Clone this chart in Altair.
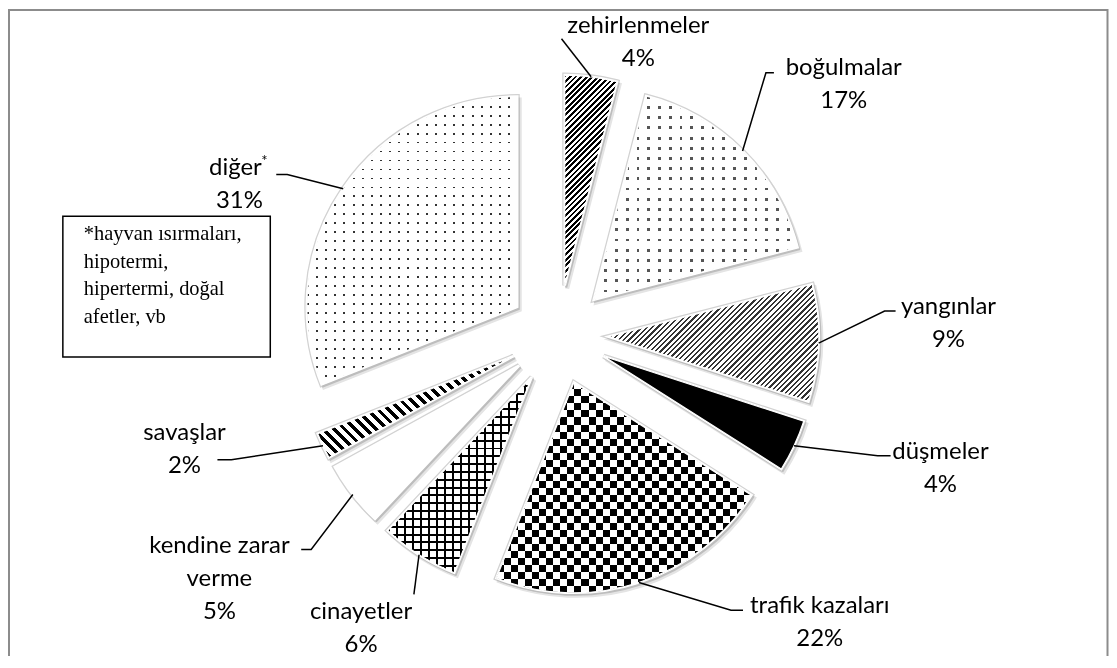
import math
import altair as alt
import pandas as pd

# ---------------- data ----------------
CATEGORIES = ["zehirlenmeler", "boğulmalar", "yangınlar", "düşmeler", "trafik kazaları",
              "cinayetler", "kendine zarar verme", "savaşlar", "diğer"]
VALUES = [4, 17, 9, 4, 22, 6, 5, 2, 31]
LABEL_LINES = [["zehirlenmeler"], ["boğulmalar"], ["yangınlar"], ["düşmeler"], ["trafik kazaları"],
               ["cinayetler"], ["kendine zarar", "verme"], ["savaşlar"], ["diğer"]]
FOOTNOTE = ["*hayvan ısırmaları,", "hipotermi,", "hipertermi, doğal", "afetler, vb"]

# ---------------- layout / style ----------------
M = 8                     # page margin
W, H = 1104, 648
CX, CY = 560 - M, 335 - M  # pie centre (chart coords)
R = 211                   # radius
EXPLODE = 50              # explosion distance
LINE_H = 33
FONT = "Lato"

# label anchor (page coords: centre x, first line y)
LABEL_POS = {
    "zehirlenmeler": (640, 25), "boğulmalar": (846, 67), "yangınlar": (951, 307),
    "düşmeler": (943, 452), "trafik kazaları": (822, 607), "cinayetler": (362, 613),
    "kendine zarar verme": (220, 547), "savaşlar": (185, 433), "diğer": (236, 168),
}
PCT_DX = {"diğer": 4}
# leader line bends (page coords)
LEADER_PTS = {
    "zehirlenmeler": [(563, 38)], "boğulmalar": [(768, 72), (776, 72)],
    "yangınlar": [(887, 311), (898, 311)], "düşmeler": [(880, 456), (893, 456)],
    "trafik kazaları": [(733, 611), (745, 611)], "cinayetler": [(415, 595)],
    "kendine zarar verme": [(312, 550), (302, 550)], "savaşlar": [(232, 460), (218, 460)],
    "diğer": [(288, 174), (277, 174)],
}
# pattern: list of (kind, period px, dark fraction, dark colour, light colour, blend)
CLEAR = "rgba(255,255,255,0)"
PATTERNS = {
    "zehirlenmeler": [("up", 4.0, 0.5, "#000", "#fff", None)],
    "boğulmalar": [("v", 11, 0.25, "#555", "#fff", None), ("h", 10, 0.28, "#555", "#fff", "lighten")],
    "yangınlar": [("up", 3.8, 0.42, "#333", "#fff", None)],
    "düşmeler": "#000",
    "trafik kazaları": [("v", 14, 0.5, "#000", "#fff", None), ("h", 14, 0.5, "#000", "#fff", "difference")],
    "cinayetler": [("v", 8, 0.25, "#000", "#fff", None), ("h", 8, 0.25, "#000", CLEAR, None)],
    "kendine zarar verme": "#fff",
    "savaşlar": [("down", 7.5, 0.45, "#000", "#fff", None)],
    "diğer": [("v", 9, 0.22, "#333", "#fff", None), ("h", 9, 0.22, "#333", "#fff", "lighten")],
}

# ---------------- derived tables ----------------
total = sum(VALUES)
rows = []
acc = 0
for c, v in zip(CATEGORIES, VALUES):
    t0, t1 = acc, acc + v
    acc = t1
    mid = (t0 + t1) / 2 / total * 2 * math.pi
    rows.append({"cat": c, "value": v, "t0": t0, "t1": t1,
                 "cx": CX + EXPLODE * math.sin(mid), "cy": CY - EXPLODE * math.cos(mid),
                 "mid": mid})
slices = pd.DataFrame(rows)


def bbox(t0, t1):
    a0 = t0 / total * 2 * math.pi
    a1 = t1 / total * 2 * math.pi
    angs = [a0, a1] + [k * math.pi / 2 for k in range(5) if a0 < k * math.pi / 2 < a1]
    xs = [0] + [R * math.sin(a) for a in angs]
    ys = [0] + [-R * math.cos(a) for a in angs]
    return max(xs) - min(xs), max(ys) - min(ys)


def stops(n, frac, on, off):
    out = []
    for k in range(n):
        a, b, c = k / n, (k + frac) / n, (k + 1) / n
        out += [{"offset": round(a, 5), "color": on}, {"offset": round(b, 5), "color": on},
                {"offset": round(b, 5), "color": off}, {"offset": round(c, 5), "color": off}]
    return out


def gradient(kind, period, frac, on, off, w, h):
    if kind == "v":
        n = max(1, round(w / period))
        g = dict(x1=0, y1=0, x2=1, y2=0)
    elif kind == "h":
        n = max(1, round(h / period))
        g = dict(x1=0, y1=0, x2=0, y2=1)
    else:
        s = (w + h) / (w * w + h * h)
        n = max(1, round((w + h) / (math.sqrt(2) * period)))
        if kind == "up":
            g = dict(x1=0, y1=0, x2=s * w, y2=s * h)
        else:
            g = dict(x1=0, y1=1, x2=s * w, y2=1 - s * h)
    g.update({"gradient": "linear", "stops": stops(n, frac, on, off)})
    return g


theta_scale = alt.Scale(domain=[0, total], range=[0, 2 * math.pi])
base = alt.Chart(slices)


def arcs(dx=0, dy=0, **mk):
    ch = base.transform_calculate(px=f"datum.cx + {dx}", py=f"datum.cy + {dy}")
    return ch.mark_arc(outerRadius=R, **mk).encode(
        theta=alt.Theta("t0:Q", scale=theta_scale, stack=False),
        theta2="t1:Q",
        x=alt.X("px:Q", scale=None, axis=None),
        y=alt.Y("py:Q", scale=None, axis=None),
    )


layers = [
    arcs(2.5, 3, fill="#e4e4e4", stroke="#e4e4e4", strokeWidth=4),
    arcs(fill="#d2d2d2", stroke="#d2d2d2", strokeWidth=5),
    arcs(1.5, 2, fill="#bdbdbd", stroke="#bdbdbd", strokeWidth=2),
    arcs(fill="#ffffff", stroke="#ffffff", strokeWidth=2.5),
]
for r in rows:
    c = r["cat"]
    pat = PATTERNS[c]
    w, h = bbox(r["t0"], r["t1"])
    if isinstance(pat, str):
        layers.append(arcs(fill=pat).transform_filter(alt.datum.cat == c))
        continue
    for kind, period, frac, on, off, blend in pat:
        mk = {"fill": gradient(kind, period, frac, on, off, w, h)}
        if blend:
            mk["blend"] = blend
        layers.append(arcs(**mk).transform_filter(alt.datum.cat == c))
layers.append(arcs(fillOpacity=0, stroke="#ffffff", strokeWidth=1.2))

# leader lines
lead_rows = []
for r in rows:
    c = r["cat"]
    sx = CX + (R + EXPLODE) * math.sin(r["mid"])
    sy = CY - (R + EXPLODE) * math.cos(r["mid"])
    pts = [(sx, sy)] + [(x - M, y - M) for x, y in LEADER_PTS[c]]
    for i, (x, y) in enumerate(pts):
        lead_rows.append({"cat": c, "o": i, "x": x, "y": y})
leaders = alt.Chart(pd.DataFrame(lead_rows)).mark_line(color="#000", strokeWidth=1.5).encode(
    x=alt.X("x:Q", scale=None, axis=None), y=alt.Y("y:Q", scale=None, axis=None),
    detail="cat:N", order="o:Q")

# labels
lab_rows = []
for c, v, lines in zip(CATEGORIES, VALUES, LABEL_LINES):
    x, y = LABEL_POS[c]
    for i, t in enumerate(lines):
        lab_rows.append({"t": t, "x": x - M, "y": y - M + i * LINE_H})
    lab_rows.append({"t": f"{v}%", "x": x - M + PCT_DX.get(c, 0), "y": y - M + len(lines) * LINE_H})
labels = alt.Chart(pd.DataFrame(lab_rows)).mark_text(
    font=FONT, fontSize=24, color="#000", align="center", baseline="middle").encode(
    x=alt.X("x:Q", scale=None, axis=None), y=alt.Y("y:Q", scale=None, axis=None), text="t:N")

sup = alt.Chart(pd.DataFrame({"t": ["*"], "x": [265 - M], "y": [161 - M]})).mark_text(
    font=FONT, fontSize=15, color="#000", align="center", baseline="middle").encode(
    x=alt.X("x:Q", scale=None, axis=None), y=alt.Y("y:Q", scale=None, axis=None), text="t:N")

# footnote box
one = pd.DataFrame({"a": [0]})
box = alt.Chart(one).mark_rect(fill="#ffffff", stroke="#000", strokeWidth=1.5).encode(
    x=alt.value(63 - M), x2=alt.value(271 - M), y=alt.value(216 - M), y2=alt.value(357 - M))
foot = alt.Chart(pd.DataFrame({"t": FOOTNOTE, "i": list(range(len(FOOTNOTE)))})).transform_calculate(
    py=f"{234 - M} + datum.i * 27.5").mark_text(
    font="Liberation Serif", fontSize=20.5, color="#000", align="left", baseline="middle").encode(
    x=alt.value(84 - M), y=alt.Y("py:Q", scale=None, axis=None), text="t:N")

frame = alt.Chart(one).mark_rect(fillOpacity=0, stroke="#8c8c8c", strokeWidth=2).encode(
    x=alt.value(1), x2=alt.value(1102.5), y=alt.value(1), y2=alt.value(H + 40))

chart = alt.layer(*layers, leaders, labels, sup, box, foot, frame).properties(
    width=W, height=H, padding=0, autosize=alt.AutoSizeParams(type="none"),
    background="#ffffff"
).configure_view(strokeWidth=0)

chart.save("out.html", embed_options={"renderer": "svg", "actions": False})
